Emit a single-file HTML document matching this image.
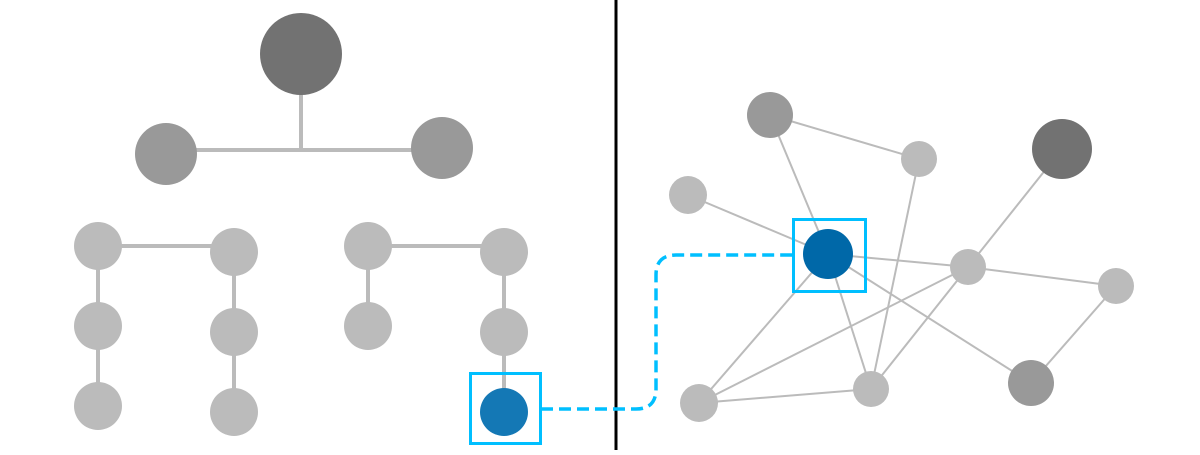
<!DOCTYPE html><html><head><style>body{margin:0;background:#fff}</style></head><body>
<svg width="1200" height="450" xmlns="http://www.w3.org/2000/svg">
<g stroke="#bbb" stroke-width="4">
<line x1="301" y1="60" x2="301" y2="150"/><line x1="166" y1="150" x2="442" y2="150"/>
<line x1="98" y1="246" x2="234" y2="246"/><line x1="98" y1="246" x2="98" y2="406"/><line x1="234" y1="252" x2="234" y2="412"/>
<line x1="368" y1="246" x2="504" y2="246"/><line x1="368" y1="246" x2="368" y2="326"/><line x1="504" y1="252" x2="504" y2="412"/>
</g>
<circle cx="301" cy="54" r="41" fill="#727272"/>
<circle cx="166" cy="154" r="31" fill="#999"/><circle cx="442" cy="148" r="31" fill="#999"/>
<g fill="#bbb">
<circle cx="98" cy="246" r="24"/><circle cx="234" cy="252" r="24"/><circle cx="98" cy="326" r="24"/><circle cx="98" cy="406" r="24"/>
<circle cx="234" cy="332" r="24"/><circle cx="234" cy="412" r="24"/><circle cx="368" cy="246" r="24"/><circle cx="504" cy="252" r="24"/>
<circle cx="368" cy="326" r="24"/><circle cx="504" cy="332" r="24"/>
</g>
<circle cx="504" cy="412" r="24" fill="#1478b5"/>
<rect x="470.5" y="373.5" width="70" height="70" fill="none" stroke="#00bfff" stroke-width="3"/>
<line x1="616" y1="0" x2="616" y2="450" stroke="#000" stroke-width="3"/>
<path d="M541 409 H636 Q656 409 656 389 V275 Q656 255 676 255 H793" fill="none" stroke="#00bfff" stroke-width="3.5" stroke-dasharray="12,6"/>
<g stroke="#bbb" stroke-width="2">
<line x1="770" y1="115" x2="919" y2="159"/><line x1="770" y1="115" x2="828" y2="254"/><line x1="688" y1="195" x2="828" y2="254"/>
<line x1="828" y1="254" x2="968" y2="267"/><line x1="968" y1="267" x2="1116" y2="286"/><line x1="968" y1="267" x2="1062" y2="149"/>
<line x1="828" y1="254" x2="699" y2="403"/><line x1="828" y1="254" x2="871" y2="389"/><line x1="828" y1="254" x2="1031" y2="383"/>
<line x1="919" y1="159" x2="871" y2="389"/><line x1="968" y1="267" x2="699" y2="403"/><line x1="968" y1="267" x2="871" y2="389"/>
<line x1="699" y1="403" x2="871" y2="389"/><line x1="1116" y1="286" x2="1031" y2="383"/>
</g>
<circle cx="770" cy="115" r="23" fill="#999"/><circle cx="1062" cy="149" r="30" fill="#727272"/><circle cx="1031" cy="383" r="23" fill="#999"/>
<g fill="#bbb">
<circle cx="919" cy="159" r="18"/><circle cx="688" cy="195" r="19"/><circle cx="968" cy="267" r="18"/>
<circle cx="1116" cy="286" r="18"/><circle cx="699" cy="403" r="19"/><circle cx="871" cy="389" r="18"/>
</g>
<circle cx="828" cy="254" r="25" fill="#0068a8"/>
<rect x="793.5" y="219.5" width="72" height="72" fill="none" stroke="#00bfff" stroke-width="3"/>
</svg></body></html>
